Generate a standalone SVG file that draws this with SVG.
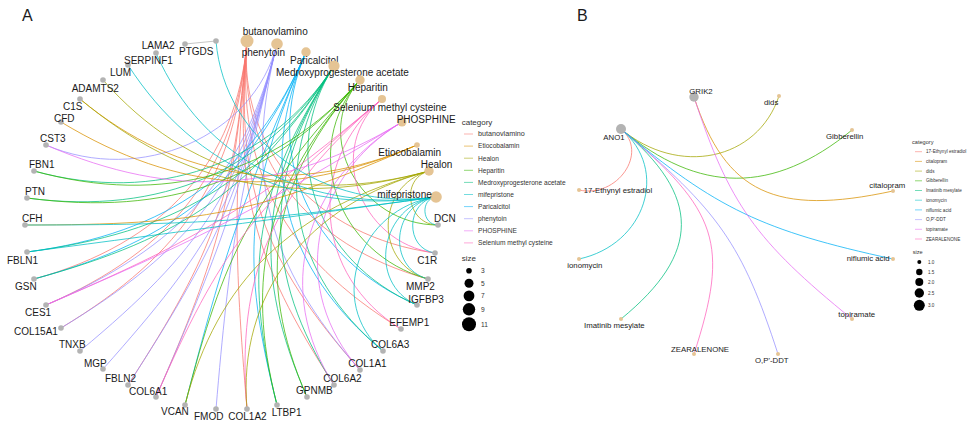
<svg xmlns="http://www.w3.org/2000/svg" width="972" height="427" viewBox="0 0 972 427">
<style>
text{font-family:"Liberation Sans",Arial,sans-serif;fill:#1a1a1a}
.lbl{font-size:10px}
.lblb{font-size:7.8px}
.pan{font-size:16px}
.gene{fill:#B3B3B3}
.drug{fill:#E5C494}
.e{fill:none;stroke-width:1;stroke-opacity:.75}
.lg{stroke-width:1;stroke-opacity:.55}
.c1{stroke:#F8766D}.c2{stroke:#D89000}.c3{stroke:#A3A500}.c4{stroke:#39B600}.c5{stroke:#00BF7D}
.c6{stroke:#00BFC4}.c7{stroke:#00B0F6}.c8{stroke:#9590FF}.c9{stroke:#E76BF3}.c10{stroke:#FF62BC}
.lt{font-size:6.6px;fill:#333}
.lh{font-size:8px;fill:#333}
.ltb{font-size:4.6px;fill:#333}
.lhb{font-size:5.6px;fill:#333}
.dot{fill:#000}
</style>
<rect width="972" height="427" fill="#fff"/>
<text class="pan" x="22" y="21">A</text>
<text class="pan" x="577" y="21">B</text>

<g id="edges-A">
<path class="e" d="M185 44L216 41" stroke="#B3B3B3"/>
<g class="e c1">
<path d="M247 41C236.2 168.7 174.7 249.5 46 305"/>
<path d="M247 41C235.7 175.3 185.5 252.8 61 328"/>
<path d="M247 41C233.8 197.4 220.2 250.8 156 397"/>
<path d="M247 41C233.8 197.4 233.8 252.6 247 409"/>
<path d="M247 41C235.1 182.3 261.3 258.6 360 370"/>
<path d="M247 41C236.2 168.7 283.4 256.8 401 329"/>
<path d="M247 41C237.9 148.8 315.7 236.6 435 253"/>
<path d="M247 41C236.8 162.1 164 243.5 34 279"/>
<path d="M247 41C233.7 198.5 216.6 248 128 385"/>
<path d="M247 41C237.3 155.6 305.6 245.4 428 279"/>
<path d="M247 41C234.4 190 251 255.4 334 385"/>
</g>
<g class="e c8">
<path d="M277 44C253.8 136.1 140.4 185.7 46 145"/>
<path d="M277 44C242.1 183 191.9 248.9 61 328"/>
<path d="M277 44C240.1 190.6 202.7 248.9 80 351"/>
<path d="M277 44C238.1 198.9 213 245.7 103 369"/>
<path d="M277 44C238.3 197.9 216 249 128 385"/>
<path d="M277 44C238.3 197.9 229.2 252.6 216 409"/>
<path d="M277 44C243.8 176.1 181.4 246.6 46 305"/>
<path d="M277 44C243.8 176.1 266.2 264.1 360 370"/>
<path d="M277 44C238.3 197.9 220.2 250.8 156 397"/>
</g>
<g class="e c7">
<path d="M306 52C254.3 172.1 168.9 233.3 27 252"/>
<path d="M306 52C251.6 178.3 178.2 239.6 34 279"/>
<path d="M306 52C245.7 192.1 240.1 259.2 277 405"/>
<path d="M306 52C257 165.8 283.3 268.1 383 351"/>
<path d="M306 52C242.7 199 224.5 252 185 405"/>
<path d="M306 52C262.3 153.4 308.3 258.1 417 305"/>
</g>
<g class="e c5">
<path d="M334 66C266.6 170.6 161.6 215.8 27 198"/>
<path d="M334 66C270.1 165.1 157 204.6 34 171"/>
<path d="M334 66C259.2 182.1 176.3 232.3 27 252"/>
<path d="M334 66C255.3 188.1 185.7 237.5 34 279"/>
<path d="M334 66C259.2 182.1 251.9 271.4 307 397"/>
<path d="M334 66C255.3 188.1 242.1 266.8 277 405"/>
<path d="M334 66C270.1 165.1 288.6 272.5 383 351"/>
<path d="M334 66C277.8 153.1 315.3 261.2 417 305"/>
<path d="M334 66C262.9 176.3 262.9 274 334 385"/>
</g>
<g class="e c4">
<path d="M360 80C275.4 175.4 164 206.5 34 171"/>
<path d="M360 80C270.8 180.6 168.9 216.7 27 198"/>
<path d="M360 80C250 204.1 224.8 250.9 185 405"/>
<path d="M360 80C270.8 180.6 254.6 277.6 307 397"/>
<path d="M360 80C266.2 185.9 243.8 273.6 277 405"/>
<path d="M360 80C311.4 134.8 360 225 438 225"/>
<path d="M360 80C299.9 147.9 336 253.7 428 279"/>
</g>
<g class="e c10">
<path d="M382 99C254.1 206.1 203.7 237 46 305"/>
<path d="M382 99C253.2 206.9 220.6 249.8 156 397"/>
<path d="M382 99C272.1 191 235.7 274.7 247 409"/>
<path d="M382 99C305.4 163.1 314.7 276.1 401 329"/>
<path d="M382 99C325.1 146.6 358.1 242.4 435 253"/>
</g>
<g class="e c9">
<path d="M402 122C283.7 193.5 174.7 200.5 46 145"/>
<path d="M402 122C257.1 209.6 203.7 237 46 305"/>
<path d="M402 122C308.6 178.4 289.6 290.5 360 370"/>
<path d="M402 122C302.1 182.4 273.9 291.2 334 385"/>
</g>
<g class="e c2">
<path d="M417 145C258.2 213.5 201.8 225 25 225"/>
<path d="M417 145C288.3 200.5 179.3 193.5 61 122"/>
<path d="M417 145C294.9 197.6 179.7 181.9 80 99"/>
</g>
<g class="e c3">
<path d="M429 171C299 206.5 187.6 175.4 103 80"/>
<path d="M429 171C291.9 208.5 185.1 186.4 80 99"/>
<path d="M429 171C291.9 208.5 217.3 280.1 185 405"/>
<path d="M429 171C306 204.6 237.3 294.4 247 409"/>
<path d="M429 171C375.1 185.7 374.4 264.3 428 279"/>
<path d="M429 171C399.6 179 407.2 225 438 225"/>
</g>
<g class="e c6">
<path d="M436 197C323.9 212.3 224.5 141.8 216 41"/>
<path d="M436 197C308.6 214.4 203 160.2 156 53"/>
<path d="M436 197C301.4 215.4 196.1 170.3 128 65"/>
<path d="M436 197C262.2 220.8 200.8 229 27 252"/>
<path d="M436 197C262.2 220.8 200.5 225 25 225"/>
<path d="M436 197C358.7 207.6 325.7 303.4 383 351"/>
<path d="M436 197C380.2 204.6 366.4 283.2 417 305"/>
<path d="M436 197C392.2 203 385.9 267.4 428 279"/>
<path d="M436 197C420 199.2 421.9 225 438 225"/>
<path d="M436 197C405.5 201.2 404.7 248.8 435 253"/>
</g>
</g>

<g id="nodes-A">
<g id="a-butanovlamino"><circle class="drug" cx="247" cy="41" r="6.5"/><text class="lbl" x="242.7" y="34.6">butanovlamino</text></g>
<g id="a-phenytoin"><circle class="drug" cx="277" cy="44" r="5.8"/><text class="lbl" x="241.7" y="55.9">phenytoin</text></g>
<g id="a-Paricalcitol"><circle class="drug" cx="306" cy="52" r="4.7"/><text class="lbl" x="290" y="63.6">Paricalcitol</text></g>
<g id="a-Medroxyprogesterone"><circle class="drug" cx="334" cy="66" r="5.6"/><text class="lbl" x="276" y="75.9">Medroxyprogesterone acetate</text></g>
<g id="a-Heparitin"><circle class="drug" cx="360" cy="80" r="4.7"/><text class="lbl" x="347.7" y="91.3">Heparitin</text></g>
<g id="a-Selenium"><circle class="drug" cx="382" cy="99" r="4"/><text class="lbl" x="333.3" y="110.9">Selenium methyl cysteine</text></g>
<g id="a-PHOSPHINE"><circle class="drug" cx="402" cy="122" r="4.5"/><text class="lbl" x="396.7" y="122.6">PHOSPHINE</text></g>
<g id="a-Etiocobalamin"><circle class="drug" cx="417" cy="145" r="2.8"/><text class="lbl" x="378.3" y="155.9">Etiocobalamin</text></g>
<g id="a-Healon"><circle class="drug" cx="429" cy="171" r="4.7"/><text class="lbl" x="420.7" y="167.9">Healon</text></g>
<g id="a-mifepristone"><circle class="drug" cx="436" cy="197" r="5.8"/><text class="lbl" x="377.3" y="197.6">mifepristone</text></g>
<g id="a-DCN"><circle class="gene" cx="438" cy="225" r="2.8"/><text class="lbl" x="434" y="221.9">DCN</text></g>
<g id="a-C1R"><circle class="gene" cx="435" cy="253" r="2.8"/><text class="lbl" x="417.3" y="263.6">C1R</text></g>
<g id="a-MMP2"><circle class="gene" cx="428" cy="279" r="2.8"/><text class="lbl" x="406" y="290.3">MMP2</text></g>
<g id="a-IGFBP3"><circle class="gene" cx="417" cy="305" r="2.8"/><text class="lbl" x="408.3" y="302.6">IGFBP3</text></g>
<g id="a-EFEMP1"><circle class="gene" cx="401" cy="329" r="2.8"/><text class="lbl" x="389.3" y="325.9">EFEMP1</text></g>
<g id="a-COL6A3"><circle class="gene" cx="383" cy="351" r="2.8"/><text class="lbl" x="371" y="347.9">COL6A3</text></g>
<g id="a-COL1A1"><circle class="gene" cx="360" cy="370" r="2.8"/><text class="lbl" x="348.3" y="366.9">COL1A1</text></g>
<g id="a-COL6A2"><circle class="gene" cx="334" cy="385" r="2.8"/><text class="lbl" x="323.3" y="381.9">COL6A2</text></g>
<g id="a-GPNMB"><circle class="gene" cx="307" cy="397" r="2.8"/><text class="lbl" x="296" y="394.3">GPNMB</text></g>
<g id="a-LTBP1"><circle class="gene" cx="277" cy="405" r="2.8"/><text class="lbl" x="271.7" y="415.6">LTBP1</text></g>
<g id="a-COL1A2"><circle class="gene" cx="247" cy="409" r="2.8"/><text class="lbl" x="228.3" y="420.3">COL1A2</text></g>
<g id="a-FMOD"><circle class="gene" cx="216" cy="409" r="2.8"/><text class="lbl" x="194" y="419.6">FMOD</text></g>
<g id="a-VCAN"><circle class="gene" cx="185" cy="405" r="2.8"/><text class="lbl" x="161" y="415.3">VCAN</text></g>
<g id="a-COL6A1"><circle class="gene" cx="156" cy="397" r="2.8"/><text class="lbl" x="129" y="394.6">COL6A1</text></g>
<g id="a-FBLN2"><circle class="gene" cx="128" cy="385" r="2.8"/><text class="lbl" x="105" y="381.9">FBLN2</text></g>
<g id="a-MGP"><circle class="gene" cx="103" cy="369" r="2.8"/><text class="lbl" x="84" y="366.9">MGP</text></g>
<g id="a-TNXB"><circle class="gene" cx="80" cy="351" r="2.8"/><text class="lbl" x="59" y="347.9">TNXB</text></g>
<g id="a-COL15A1"><circle class="gene" cx="61" cy="328" r="2.8"/><text class="lbl" x="14" y="335.3">COL15A1</text></g>
<g id="a-CES1"><circle class="gene" cx="46" cy="305" r="2.8"/><text class="lbl" x="25" y="315.6">CES1</text></g>
<g id="a-GSN"><circle class="gene" cx="34" cy="279" r="2.8"/><text class="lbl" x="15" y="290.3">GSN</text></g>
<g id="a-FBLN1"><circle class="gene" cx="27" cy="252" r="2.8"/><text class="lbl" x="7" y="263.6">FBLN1</text></g>
<g id="a-CFH"><circle class="gene" cx="25" cy="225" r="2.8"/><text class="lbl" x="22" y="222.3">CFH</text></g>
<g id="a-PTN"><circle class="gene" cx="27" cy="198" r="2.8"/><text class="lbl" x="25" y="194.6">PTN</text></g>
<g id="a-FBN1"><circle class="gene" cx="34" cy="171" r="2.8"/><text class="lbl" x="29" y="167.6">FBN1</text></g>
<g id="a-CST3"><circle class="gene" cx="46" cy="145" r="2.8"/><text class="lbl" x="40" y="141.6">CST3</text></g>
<g id="a-CFD"><circle class="gene" cx="61" cy="122" r="2.8"/><text class="lbl" x="54" y="121.6">CFD</text></g>
<g id="a-C1S"><circle class="gene" cx="80" cy="99" r="2.8"/><text class="lbl" x="63" y="109.6">C1S</text></g>
<g id="a-ADAMTS2"><circle class="gene" cx="103" cy="80" r="2.8"/><text class="lbl" x="71.7" y="91.6">ADAMTS2</text></g>
<g id="a-LUM"><circle class="gene" cx="128" cy="65" r="2.8"/><text class="lbl" x="110" y="75.6">LUM</text></g>
<g id="a-SERPINF1"><circle class="gene" cx="156" cy="53" r="2.8"/><text class="lbl" x="124" y="63.6">SERPINF1</text></g>
<g id="a-LAMA2"><circle class="gene" cx="185" cy="44" r="2.8"/><text class="lbl" x="141.7" y="49.3">LAMA2</text></g>
<g id="a-PTGDS"><circle class="gene" cx="216" cy="41" r="2.8"/><text class="lbl" x="179" y="55.3">PTGDS</text></g>
</g>

<g id="legend-A">
<text class="lh" x="461.7" y="124.5">category</text>
<line class="lg c1" x1="464" y1="134" x2="473" y2="134"/><text class="lt" x="478" y="136.3" style="font-size:7.2px">butanovlamino</text>
<line class="lg c2" x1="464" y1="146.1" x2="473" y2="146.1"/><text class="lt" x="478" y="148.4">Etiocobalamin</text>
<line class="lg c3" x1="464" y1="158.2" x2="473" y2="158.2"/><text class="lt" x="478" y="160.5">Healon</text>
<line class="lg c4" x1="464" y1="170.3" x2="473" y2="170.3"/><text class="lt" x="478" y="172.6">Heparitin</text>
<line class="lg c5" x1="464" y1="182.4" x2="473" y2="182.4"/><text class="lt" x="478" y="184.7">Medroxyprogesterone acetate</text>
<line class="lg c6" x1="464" y1="194.5" x2="473" y2="194.5"/><text class="lt" x="478" y="196.8">mifepristone</text>
<line class="lg c7" x1="464" y1="206.6" x2="473" y2="206.6"/><text class="lt" x="478" y="208.9">Paricalcitol</text>
<line class="lg c8" x1="464" y1="218.7" x2="473" y2="218.7"/><text class="lt" x="478" y="221">phenytoin</text>
<line class="lg c9" x1="464" y1="230.8" x2="473" y2="230.8"/><text class="lt" x="478" y="233.1">PHOSPHINE</text>
<line class="lg c10" x1="464" y1="242.9" x2="473" y2="242.9"/><text class="lt" x="478" y="245.2">Selenium methyl cysteine</text>
<text class="lh" x="461.7" y="260.5">size</text>
<circle class="dot" cx="469" cy="270.7" r="2.8"/><text class="lt" x="481" y="273">3</text>
<circle class="dot" cx="469" cy="283.3" r="4.5"/><text class="lt" x="481" y="285.6">5</text>
<circle class="dot" cx="469" cy="295.9" r="5.4"/><text class="lt" x="481" y="298.2">7</text>
<circle class="dot" cx="469" cy="309.3" r="6.2"/><text class="lt" x="481" y="311.6">9</text>
<circle class="dot" cx="469" cy="324.3" r="7"/><text class="lt" x="481" y="326.6">11</text>
</g>

<g id="edges-B" class="e">
<path class="c1" d="M621 129C649.1 152.4 617.3 198.5 579 190"/>
<path class="c3" d="M621 129C678.5 177 757.5 160.5 779 96"/>
<path class="c4" d="M621 129C699.2 194.3 773.1 194.6 852 130"/>
<path class="c2" d="M694 97C725.5 193 775.2 216.5 893 191"/>
<path class="c6" d="M621 129C669.8 169.7 645.6 244.6 579 259"/>
<path class="c5" d="M621 129C701.5 196.2 701.5 253.2 621 319"/>
<path class="c10" d="M621 129C718.8 210.6 729.7 244.3 694 354"/>
<path class="c8" d="M621 129C718.8 210.6 742.3 244.3 778 354"/>
<path class="c7" d="M621 129C716.7 208.9 762.4 230.7 893 259"/>
<path class="c9" d="M694 97C728.9 203.5 755.5 240.8 852 319"/>
</g>

<g id="nodes-B">
<g id="b-GRIK2"><circle class="gene" cx="694" cy="97" r="4.7"/><text class="lblb" x="689.3" y="93.5">GRIK2</text></g>
<g id="b-dids"><circle class="drug" cx="779" cy="96" r="2"/><text class="lblb" x="764" y="104.5">dids</text></g>
<g id="b-Gibberellin"><circle class="drug" cx="852" cy="130" r="2"/><text class="lblb" x="826" y="138.8">Gibberellin</text></g>
<g id="b-citalopram"><circle class="drug" cx="893" cy="191" r="2"/><text class="lblb" x="869.3" y="188.1">citalopram</text></g>
<g id="b-niflumic"><circle class="drug" cx="893" cy="259" r="2"/><text class="lblb" x="846.7" y="260.5">niflumic acid</text></g>
<g id="b-topiramate"><circle class="drug" cx="852" cy="319" r="2"/><text class="lblb" x="838.3" y="317.1">topiramate</text></g>
<g id="b-OPDDT"><circle class="drug" cx="778" cy="354" r="2"/><text class="lblb" x="755" y="362.8">O,P'-DDT</text></g>
<g id="b-ZEARALENONE"><circle class="drug" cx="694" cy="354" r="2"/><text class="lblb" x="671" y="351.5">ZEARALENONE</text></g>
<g id="b-Imatinib"><circle class="drug" cx="621" cy="319" r="2"/><text class="lblb" x="584" y="327.8">Imatinib mesylate</text></g>
<g id="b-ionomycin"><circle class="drug" cx="579" cy="259" r="2"/><text class="lblb" x="567.3" y="267.8">ionomycin</text></g>
<g id="b-Ethynyl"><circle class="drug" cx="579" cy="190" r="2"/><text class="lblb" x="583.7" y="192.8">17-Ethynyl estradiol</text></g>
<g id="b-ANO1"><circle class="gene" cx="621" cy="129" r="5"/><text class="lblb" x="603.3" y="139.5">ANO1</text></g>
</g>

<g id="legend-B">
<text class="lhb" x="912" y="143.5">category</text>
<line class="lg c1" x1="915" y1="151.7" x2="922" y2="151.7"/><text class="ltb" x="926" y="153.3">17-Ethynyl estradiol</text>
<line class="lg c2" x1="915" y1="161.4" x2="922" y2="161.4"/><text class="ltb" x="926" y="163">citalopram</text>
<line class="lg c3" x1="915" y1="171.1" x2="922" y2="171.1"/><text class="ltb" x="926" y="172.7">dids</text>
<line class="lg c4" x1="915" y1="180.8" x2="922" y2="180.8"/><text class="ltb" x="926" y="182.4">Gibberellin</text>
<line class="lg c5" x1="915" y1="190.5" x2="922" y2="190.5"/><text class="ltb" x="926" y="192.1">Imatinib mesylate</text>
<line class="lg c6" x1="915" y1="200.2" x2="922" y2="200.2"/><text class="ltb" x="926" y="201.8">ionomycin</text>
<line class="lg c7" x1="915" y1="209.9" x2="922" y2="209.9"/><text class="ltb" x="926" y="211.5">niflumic acid</text>
<line class="lg c8" x1="915" y1="219.6" x2="922" y2="219.6"/><text class="ltb" x="926" y="221.2">O,P'-DDT</text>
<line class="lg c9" x1="915" y1="229.3" x2="922" y2="229.3"/><text class="ltb" x="926" y="230.9">topiramate</text>
<line class="lg c10" x1="915" y1="239" x2="922" y2="239"/><text class="ltb" x="926" y="240.6">ZEARALENONE</text>
<text class="lhb" x="912.7" y="253.5">size</text>
<circle class="dot" cx="919.3" cy="262" r="2"/><text class="ltb" x="928" y="263.6">1.0</text>
<circle class="dot" cx="919.3" cy="272" r="3.2"/><text class="ltb" x="928" y="273.6">1.5</text>
<circle class="dot" cx="919.3" cy="282" r="4"/><text class="ltb" x="928" y="283.6">2.0</text>
<circle class="dot" cx="919.3" cy="293" r="4.7"/><text class="ltb" x="928" y="294.6">2.5</text>
<circle class="dot" cx="919.3" cy="305.3" r="5.5"/><text class="ltb" x="928" y="306.9">3.0</text>
</g>
</svg>
